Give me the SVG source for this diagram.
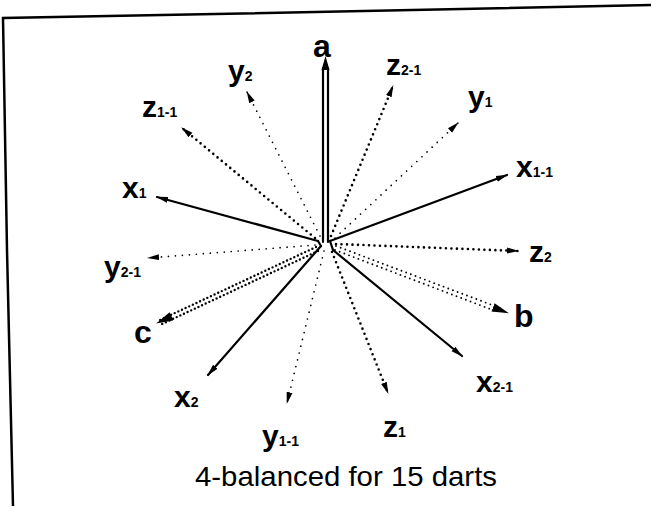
<svg xmlns="http://www.w3.org/2000/svg" width="651" height="508" viewBox="0 0 651 508">
<style>
  .lbl { font-family: "Liberation Sans", Arial, sans-serif; font-weight: bold; font-size: 30px; fill: #000; }
  .big { font-size: 32px; }
  .sub { font-size: 14px; }
  .title { font-family: "Liberation Sans", Arial, sans-serif; font-size: 28px; fill: #000; }
  .solid { stroke: #000; stroke-width: 2.2; fill: none; stroke-linecap: round; }
  .zdot { stroke: #000; stroke-width: 2.6; fill: none; stroke-linecap: round; stroke-dasharray: 0 5.5; }
  .ydot { stroke: #000; stroke-width: 1.7; fill: none; stroke-linecap: round; stroke-dasharray: 0 7; }
  .cdot { stroke: #000; stroke-width: 2.4; fill: none; stroke-linecap: round; stroke-dasharray: 0 4; }
  .bdot { stroke: #000; stroke-width: 1.9; fill: none; stroke-linecap: round; stroke-dasharray: 0 5; }
  .frame { stroke: #000; stroke-width: 2.5; fill: none; }
</style>
<defs>
  <marker id="ah" markerUnits="userSpaceOnUse" markerWidth="12" markerHeight="8" refX="11" refY="4" orient="auto">
    <path d="M0,1 L12,4 L0,7 z" fill="#000"/>
  </marker>
  <marker id="ahL" markerUnits="userSpaceOnUse" markerWidth="17" markerHeight="10" refX="16" refY="5" orient="auto">
    <path d="M0,0.5 L17,5 L0,9.5 z" fill="#000"/>
  </marker>
</defs>
<rect x="0" y="0" width="651" height="508" fill="#fff"/>
<path class="frame" d="M651,5 L215,14 L3,18 L7,250 L13,506"/>

<g id="connectors">
  <path class="solid" d="M323,242 L323,68 M328,242 L328,68" stroke-width="2"/>
  <path d="M325.5,56 L321.5,70 L329.5,70 z" fill="#000"/>
  <path class="solid" d="M318,241 L321,246"/>
  <path class="solid" d="M318,241 L157,197" marker-end="url(#ah)"/>
  <path class="solid" d="M321,246 L208,375" marker-end="url(#ah)"/>
  <path class="solid" d="M330,241 L333,250"/>
  <path class="solid" d="M330,241 L507,175" marker-end="url(#ah)"/>
  <path class="solid" d="M333,250 L462,356" marker-end="url(#ah)"/>
  <path class="zdot" d="M315,238 L182,128" marker-end="url(#ah)"/>
  <path class="zdot" d="M331,236 L393,86" marker-end="url(#ah)"/>
  <path class="zdot" d="M336,244 L518,251" marker-end="url(#ah)"/>
  <path class="zdot" d="M332,252 L388,393" marker-end="url(#ah)"/>
  <path class="ydot" d="M320,236 L247,92" marker-end="url(#ah)"/>
  <path class="ydot" d="M335,238 L458,123" marker-end="url(#ah)"/>
  <path class="ydot" d="M315,245 L148,258" marker-end="url(#ah)"/>
  <path class="ydot" d="M324,251 L287,403" marker-end="url(#ah)"/>
  <path class="cdot" d="M316,247 L160,320"/>
  <path class="cdot" d="M318,251 L162,324"/>
  <path d="M317,249 L157,323" stroke="none" fill="none" marker-end="url(#ahL)"/>
  <path class="bdot" d="M336,246 L500,308"/>
  <path class="bdot" d="M335,250 L498,312"/>
  <path d="M335,248 L508,313" stroke="none" fill="none" marker-end="url(#ahL)"/>
</g>

<g id="node-a"><text class="lbl big" x="313" y="57">a</text></g>
<g id="node-y2"><text class="lbl" x="228" y="81">y<tspan class="sub">2</tspan></text></g>
<g id="node-z2-1"><text class="lbl" x="386" y="75">z<tspan class="sub">2-1</tspan></text></g>
<g id="node-y1"><text class="lbl" x="468" y="107">y<tspan class="sub">1</tspan></text></g>
<g id="node-z1-1"><text class="lbl" x="142" y="117">z<tspan class="sub">1-1</tspan></text></g>
<g id="node-x1"><text class="lbl" x="122" y="198">x<tspan class="sub">1</tspan></text></g>
<g id="node-x1-1"><text class="lbl" x="516" y="177">x<tspan class="sub">1-1</tspan></text></g>
<g id="node-y2-1"><text class="lbl" x="104" y="277">y<tspan class="sub">2-1</tspan></text></g>
<g id="node-z2"><text class="lbl" x="529" y="262">z<tspan class="sub">2</tspan></text></g>
<g id="node-c"><text class="lbl big" x="134" y="343">c</text></g>
<g id="node-b"><text class="lbl big" x="514" y="327">b</text></g>
<g id="node-x2"><text class="lbl" x="174" y="407">x<tspan class="sub">2</tspan></text></g>
<g id="node-x2-1"><text class="lbl" x="476" y="392">x<tspan class="sub">2-1</tspan></text></g>
<g id="node-y1-1"><text class="lbl" x="262" y="446">y<tspan class="sub">1-1</tspan></text></g>
<g id="node-z1"><text class="lbl" x="383" y="437">z<tspan class="sub">1</tspan></text></g>

<g id="caption"><text class="title" x="346" y="486" text-anchor="middle" textLength="302" lengthAdjust="spacingAndGlyphs">4-balanced for 15 darts</text></g>
</svg>
